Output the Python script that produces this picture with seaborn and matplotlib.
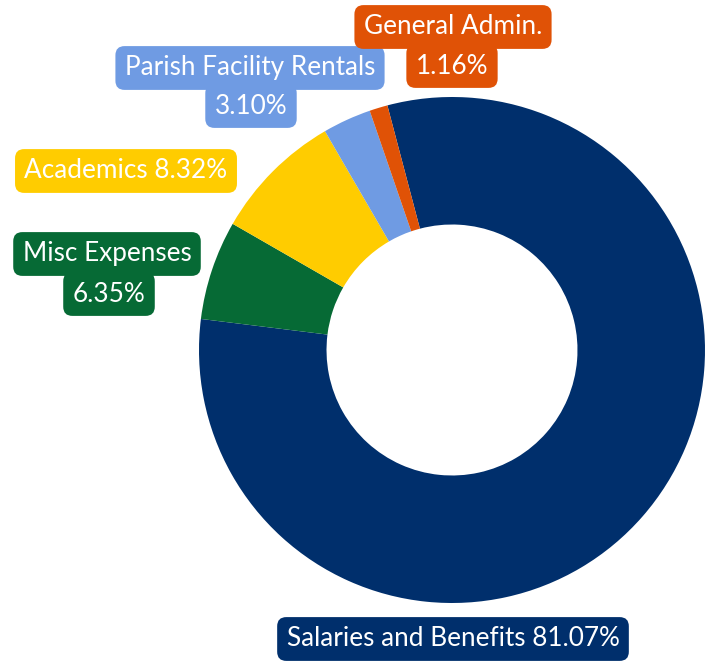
import matplotlib
matplotlib.use("Agg")
import matplotlib.pyplot as plt
import seaborn as sns

# Data
categories = ["Salaries and Benefits", "Misc Expenses", "Academics",
              "Parish Facility Rentals", "General Admin."]
shares = [81.07, 6.35, 8.32, 3.10, 1.16]
colors = ["#002F6C", "#066A35", "#FFCC00", "#6F9BE3", "#E05206"]

sns.set_theme(style="white")
plt.rcParams["font.family"] = ["Lato", "DejaVu Sans"]

W, H = 714, 663
CX, CY, R = 452, 350, 253  # donut centre and radius in pixels

fig = plt.figure(figsize=(W / 100, H / 100), dpi=100)
ax = fig.add_axes([0, 0, 1, 1])
ax.pie(shares, colors=colors, startangle=104.8, counterclock=False,
       radius=1, wedgeprops=dict(width=0.504, linewidth=0))
ax.set_xlim(-CX / R, (W - CX) / R)
ax.set_ylim(-(H - CY) / R, CY / R)
ax.axis("off")

# label lines: (text, x px, y px, colour)
label_lines = [
    ("Salaries and Benefits 81.07%", 453, 639, colors[0]),
    ("6.35%", 109, 294, colors[1]),
    ("Misc Expenses", 107, 254, colors[1]),
    ("Academics 8.32%", 126, 171, colors[2]),
    ("3.10%", 251, 106, colors[3]),
    ("Parish Facility Rentals", 250, 68, colors[3]),
    ("1.16%", 452, 66, colors[4]),
    ("General Admin.", 453, 27, colors[4]),
]
for txt, x, y, c in label_lines:
    fig.text(x / W, 1 - y / H, txt, ha="center", va="center", color="white",
             fontsize=18.8,
             bbox=dict(boxstyle="round,pad=0.36,rounding_size=0.35", fc=c, ec="none"))

fig.savefig("out.png", dpi=100)
